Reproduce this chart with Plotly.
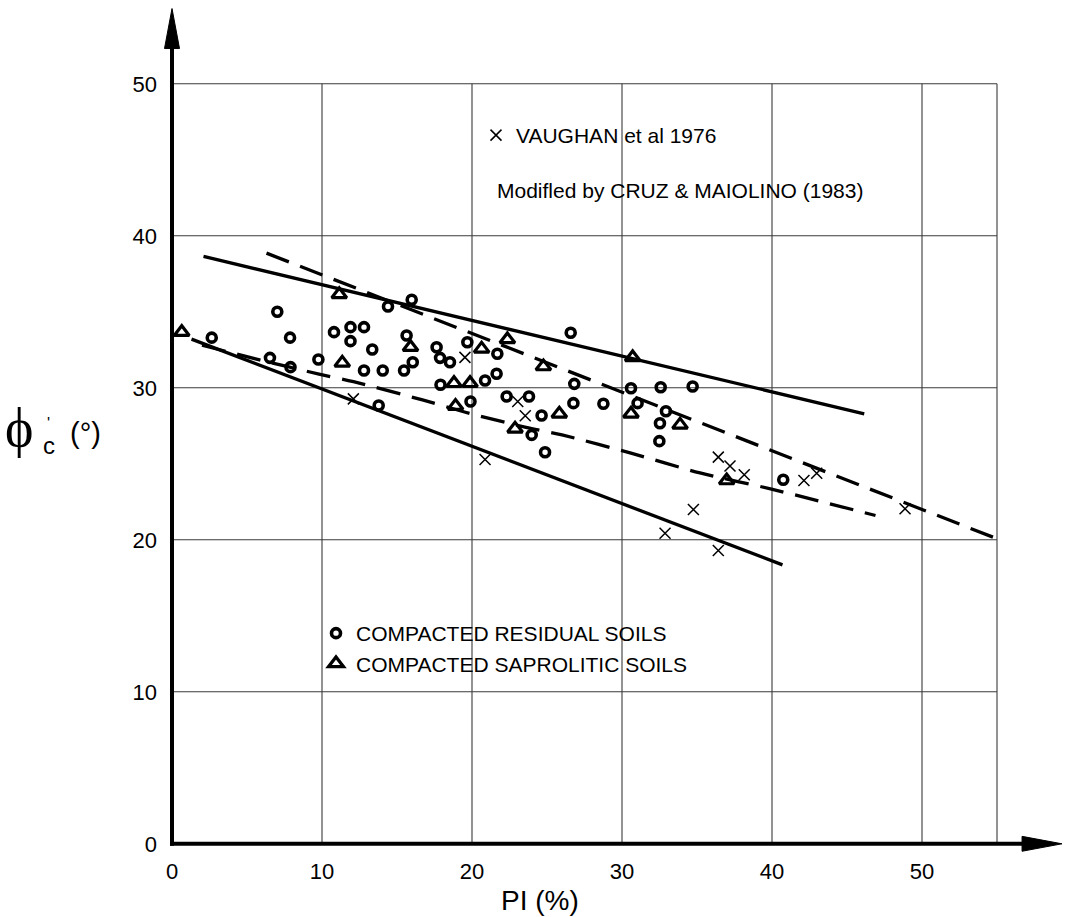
import plotly.graph_objects as go

# ---------------- data ----------------
res_x = [2.65, 7.02, 7.87, 6.53, 7.9, 9.76, 10.8, 11.9, 12.8, 11.9, 13.35, 12.8, 14.05, 13.78,
         14.4, 15.98, 15.64, 16.05, 15.47, 17.64, 17.87, 18.53, 17.9, 19.69, 21.69, 21.64, 20.87,
         19.9, 22.31, 23.8, 24.64, 23.98, 24.87, 26.58, 26.82, 26.76, 28.76, 30.6, 32.58, 34.71,
         31.04, 32.93, 32.53, 32.49, 40.75]
res_y = [33.3, 35.0, 33.3, 31.97, 31.36, 31.86, 33.66, 33.99, 33.99, 33.07, 32.52, 31.14, 31.14, 28.84,
         35.35, 35.79, 33.44, 31.68, 31.14, 32.67, 31.97, 31.68, 30.2, 33.0, 32.24, 30.92, 30.48,
         29.1, 29.43, 29.43, 28.18, 26.9, 25.76, 33.62, 30.26, 28.99, 28.95, 29.97, 30.04, 30.09,
         28.99, 28.46, 27.67, 26.49, 23.95]

sap_x = [0.65, 11.15, 11.35, 15.9, 18.8, 19.87, 20.64, 22.36, 18.9, 22.87, 24.76, 25.82, 30.71, 30.6,
         33.87, 36.98]
sap_y = [33.66, 36.14, 31.64, 32.67, 30.3, 30.3, 32.56, 33.18, 28.8, 27.3, 31.4, 28.29, 32.0, 28.29,
         27.56, 23.9]

vau_x = [12.09, 19.53, 23.05, 23.55, 20.87, 32.87, 34.76, 36.42, 36.42, 37.2, 38.15, 42.13, 42.98, 48.87]
vau_y = [29.27, 32.0, 29.1, 28.16, 25.28, 20.43, 21.99, 25.44, 19.3, 24.85, 24.28, 23.9, 24.38, 22.04]

upper_solid_x = [2.1, 46.15]
upper_solid_y = [38.64, 28.29]
lower_solid_x = [1.3, 40.7]
lower_solid_y = [33.2, 18.35]
upper_dash_x = [6.3, 55.0]
upper_dash_y = [38.86, 20.07]
lower_dash_x = [2.0, 6.0, 9.8, 12.1, 16.7, 19.9, 23.6, 26.0, 30.6, 35.2, 39.9, 46.9]
lower_dash_y = [32.8, 31.8, 30.9, 30.4, 29.2, 28.3, 27.4, 26.9, 25.7, 24.4, 23.35, 21.6]

x_ticks = [0, 10, 20, 30, 40, 50]
y_ticks = [0, 10, 20, 30, 40, 50]
grid_x = [10, 20, 30, 40, 50, 55]
grid_y = [10, 20, 30, 40, 50]

name_res = "COMPACTED RESIDUAL SOILS"
name_sap = "COMPACTED SAPROLITIC SOILS"
name_vau = "VAUGHAN et al 1976"
note_text = "Modifled by CRUZ &amp; MAIOLINO (1983)"

# ---------------- geometry ----------------
W, H = 1066, 917
ML, MR, MT, MB = 157, 0, 3, 58
X_RANGE = [-1, 59.6]
Y_RANGE = [-1, 55.316]
PW = W - ML - MR
PH = H - MT - MB

def px2paper_x(px):
    return (px - ML) / PW

def py2paper_y(py):
    return (H - MB - py) / PH

SANS = "Liberation Sans, Arial, sans-serif"
SERIF = "Liberation Serif, DejaVu Serif, serif"

fig = go.Figure()

line_style = dict(color="black", width=3.3)
dash_style = dict(color="black", width=3.3, dash="24px,12px")
fig.add_trace(go.Scatter(x=upper_solid_x, y=upper_solid_y, mode="lines", line=line_style,
                         showlegend=False, hoverinfo="skip"))
fig.add_trace(go.Scatter(x=lower_solid_x, y=lower_solid_y, mode="lines", line=line_style,
                         showlegend=False, hoverinfo="skip"))
fig.add_trace(go.Scatter(x=upper_dash_x, y=upper_dash_y, mode="lines", line=dash_style,
                         showlegend=False, hoverinfo="skip"))
fig.add_trace(go.Scatter(x=lower_dash_x, y=lower_dash_y, mode="lines",
                         line=dict(dash_style, shape="spline", smoothing=0.8),
                         showlegend=False, hoverinfo="skip"))

fig.add_trace(go.Scatter(x=vau_x, y=vau_y, mode="markers", name=name_vau, legend="legend",
                         marker=dict(symbol="x-thin-open", size=11,
                                     line=dict(color="black", width=1.5), color="black")))
fig.add_trace(go.Scatter(x=res_x, y=res_y, mode="markers", name=name_res, legend="legend2",
                         marker=dict(symbol="circle-open", size=9,
                                     line=dict(color="black", width=3.6), color="black")))
fig.add_trace(go.Scatter(x=sap_x, y=sap_y, mode="markers", name=name_sap, legend="legend2",
                         marker=dict(symbol="triangle-up-open", size=13,
                                     line=dict(color="black", width=3.2), color="black")))

shapes = []
grid_col = "#3a3a3a"
for gx in grid_x:
    shapes.append(dict(type="line", xref="x", yref="y", x0=gx, x1=gx, y0=0, y1=grid_y[-1],
                       line=dict(color=grid_col, width=1.1), layer="below"))
for gy in grid_y:
    shapes.append(dict(type="line", xref="x", yref="y", x0=0, x1=grid_x[-1], y0=gy, y1=gy,
                       line=dict(color=grid_col, width=1.1), layer="below"))
# main axes with arrows
shapes.append(dict(type="line", xref="x", yref="y", x0=-0.13, x1=57.0, y0=0, y1=0,
                   line=dict(color="black", width=4)))
shapes.append(dict(type="line", xref="x", yref="y", x0=0, x1=0, y0=-0.13, y1=52.6,
                   line=dict(color="black", width=4)))
shapes.append(dict(type="path", xref="x", yref="y",
                   path="M 56.67,-0.49 L 59.33,0 L 56.67,0.49 Z",
                   fillcolor="black", line=dict(color="black", width=1)))
shapes.append(dict(type="path", xref="x", yref="y",
                   path="M -0.5,52.32 L 0,54.95 L 0.5,52.32 Z",
                   fillcolor="black", line=dict(color="black", width=1)))

annotations = [
    dict(text="ϕ", xref="paper", yref="paper", x=px2paper_x(18.5), y=py2paper_y(428),
         xanchor="center", yanchor="middle", showarrow=False,
         font=dict(family=SERIF, size=54, color="black")),
    dict(text="'", xref="paper", yref="paper", x=px2paper_x(48), y=py2paper_y(423),
         xanchor="center", yanchor="middle", showarrow=False,
         font=dict(family=SANS, size=16, color="black")),
    dict(text="c", xref="paper", yref="paper", x=px2paper_x(49), y=py2paper_y(445),
         xanchor="center", yanchor="middle", showarrow=False,
         font=dict(family=SANS, size=24, color="black")),
    dict(text="(°)", xref="paper", yref="paper", x=px2paper_x(85), y=py2paper_y(433),
         xanchor="center", yanchor="middle", showarrow=False,
         font=dict(family=SANS, size=29, color="black")),
    dict(text="PI (%)", xref="paper", yref="paper", x=px2paper_x(540), y=py2paper_y(900),
         xanchor="center", yanchor="middle", showarrow=False,
         font=dict(family=SANS, size=28, color="black")),
    dict(text=note_text, xref="paper", yref="paper", x=px2paper_x(495), y=py2paper_y(191),
         xanchor="left", yanchor="middle", showarrow=False,
         font=dict(family=SANS, size=21, color="black")),
]

axis_common = dict(showgrid=False, zeroline=False, showline=False, ticks="",
                   tickfont=dict(family=SANS, size=22, color="black"), automargin=False,
                   fixedrange=True)

fig.update_layout(
    width=W, height=H, template="none",
    margin=dict(l=ML, r=MR, t=MT, b=MB, autoexpand=False),
    paper_bgcolor="white", plot_bgcolor="white",
    xaxis=dict(range=X_RANGE, tickvals=x_ticks, ticktext=[str(v) for v in x_ticks],
               ticklabelstandoff=-3, **axis_common),
    yaxis=dict(range=Y_RANGE, tickvals=y_ticks, ticktext=[str(v) for v in y_ticks],
               ticklabelstandoff=-1, **axis_common),
    shapes=shapes,
    annotations=annotations,
    legend=dict(xref="container", yref="container", x=476 / W, y=1 - 115 / H,
                xanchor="left", yanchor="top", bgcolor="rgba(0,0,0,0)", borderwidth=0,
                font=dict(family=SANS, size=21, color="black"), itemwidth=30),
    legend2=dict(xref="container", yref="container", x=316 / W, y=1 - 613 / H,
                 xanchor="left", yanchor="top", bgcolor="rgba(0,0,0,0)", borderwidth=0,
                 font=dict(family=SANS, size=21, color="black"), itemwidth=30, tracegroupgap=0),
    showlegend=True,
)

fig.write_html("out.html")
